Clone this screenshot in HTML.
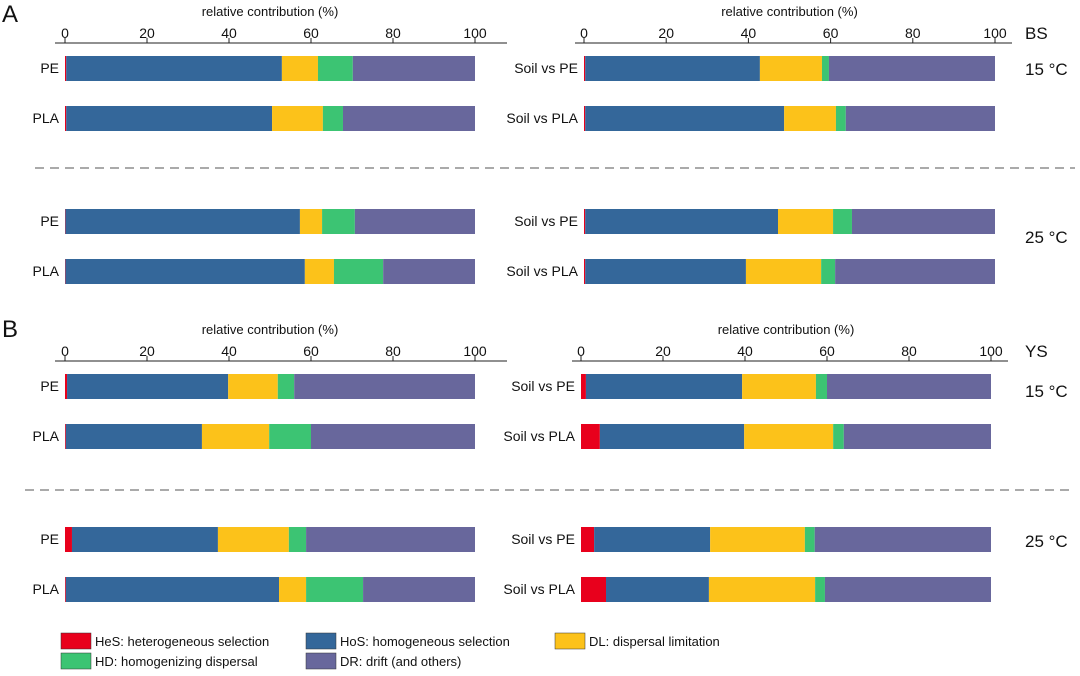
<!DOCTYPE html>
<html><head><meta charset="utf-8"><style>
body{margin:0;background:#fff;width:1080px;height:671px;overflow:hidden;font-family:"Liberation Sans",Arial,sans-serif}
svg text{font-family:"Liberation Sans",Arial,sans-serif;fill:#111}
</style></head><body>
<svg id="chart" width="1080" height="671" xmlns="http://www.w3.org/2000/svg"></svg>
<script>
const componentNames = ["HeS","HoS","DL","HD","DR"];
const colors = ["#e8001c","#34679a","#fcc21a","#3cc473","#68679c"];
const legendLabels = ["HeS: heterogeneous selection","HoS: homogeneous selection","DL: dispersal limitation","HD: homogenizing dispersal","DR: drift (and others)"];
const tickLabels = [0,20,40,60,80,100];
const leftCats = ["PE","PLA"];
const rightCats = ["Soil vs PE","Soil vs PLA"];
// cumulative values are converted from segment widths below; values = segment shares (%)
const A_left_15 = [[0.3,52.6,8.8,8.5,29.8],[0.3,50.2,12.4,4.9,32.2]];
const A_left_25 = [[0.1,57.2,5.4,8.0,29.3],[0.1,58.4,7.1,12.0,22.4]];
const A_right_15 = [[0.3,42.5,15.1,1.7,40.4],[0.3,48.4,12.6,2.4,36.3]];
const A_right_25 = [[0.3,46.9,13.4,4.6,34.8],[0.3,39.1,18.3,3.4,38.9]];
const B_left_15 = [[0.5,39.3,12.1,4.0,44.1],[0.2,33.2,16.4,10.2,40.0]];
const B_left_25 = [[1.7,35.6,17.3,4.2,41.2],[0.2,52.0,6.6,13.9,27.3]];
const B_right_15 = [[1.2,38.1,18.0,2.7,40.0],[4.6,35.2,21.7,2.6,35.9]];
const B_right_25 = [[3.2,28.3,23.1,2.4,43.0],[6.1,25.1,25.9,2.4,40.5]];

const svg=document.getElementById('chart');
const NS="http://www.w3.org/2000/svg";
function mk(tag,attrs,parent){const e=document.createElementNS(NS,tag);for(const k in attrs)e.setAttribute(k,attrs[k]);(parent||svg).appendChild(e);return e;}
function txt(x,y,s,size,anchor,parent){const t=mk('text',{x:x,y:y,'font-size':size,'text-anchor':anchor||'start'},parent);t.textContent=s;return t;}

function axis(x0,x1,y,lineL,lineR,name){
  const g=mk('g',{});
  
  
  mk('line',{x1:lineL,x2:lineR,y1:y,y2:y,stroke:'#222','stroke-width':1},g);
  tickLabels.forEach(v=>{const x=x0+(x1-x0)*v/100;mk('line',{x1:x,x2:x,y1:y,y2:y-5,stroke:'#222'},g);txt(x,y-5,String(v),14,'middle',g);});
  const t=txt((x0+x1)/2,y-27,'relative contribution (%)',13,'middle',g);
  
  
}
function bars(x0,x1,ys,data,cats,name){
  data.forEach((row,i)=>{
    const g=mk('g',{});
    
    
    let acc=0;
    row.forEach((v,j)=>{
      const xa=x0+(x1-x0)*acc/100, w=(x1-x0)*v/100; acc+=v;
      const r=mk('rect',{x:xa,y:ys[i],width:Math.max(w,0),height:25,fill:colors[j]},g);
      
      
    });
    const l=txt(x0-6,ys[i]+17,cats[i],14,'end',g);
    
    
  });
}
// Panel labels
let p=txt(2,22,'A',24);
p=txt(2,337,'B',24);
// Axes
axis(65,475,43,55,507,'axis-a-left');axis(584,995,43,575,1012,'axis-a-right');
axis(65,475,361,55,507,'axis-b-left');axis(581,991,361,572,1008,'axis-b-right');
p=txt(1025,39,'BS',17);
p=txt(1025,357,'YS',17);
[[1025,75],[1025,243],[1025,397],[1025,547]].forEach((q,i)=>{const t=txt(q[0],q[1],i%2?'25 °C':'15 °C',17);});
// dashed separators
let d=mk('line',{x1:35,x2:1075,y1:168,y2:168,stroke:'#555','stroke-dasharray':'9,6'});
d=mk('line',{x1:25,x2:1075,y1:490,y2:490,stroke:'#555','stroke-dasharray':'9,6'});
// Bars
bars(65,475,[56,106],A_left_15,leftCats,'a-15-left');
bars(65,475,[209,259],A_left_25,leftCats,'a-25-left');
bars(584,995,[56,106],A_right_15,rightCats,'a-15-right');
bars(584,995,[209,259],A_right_25,rightCats,'a-25-right');
bars(65,475,[374,424],B_left_15,leftCats,'b-15-left');
bars(65,475,[527,577],B_left_25,leftCats,'b-25-left');
bars(581,991,[374,424],B_right_15,rightCats,'b-15-right');
bars(581,991,[527,577],B_right_25,rightCats,'b-25-right');
// Legend
const legPos=[[61,633],[306,633],[555,633],[61,653],[306,653]];
legendLabels.forEach((s,i)=>{
  const g=mk('g',{});
  
  
  mk('rect',{x:legPos[i][0],y:legPos[i][1],width:30,height:16,fill:colors[i],stroke:'#333','stroke-width':0.5},g);
  txt(legPos[i][0]+34,legPos[i][1]+13,s,13,'start',g);
});
</script>
</body></html>
